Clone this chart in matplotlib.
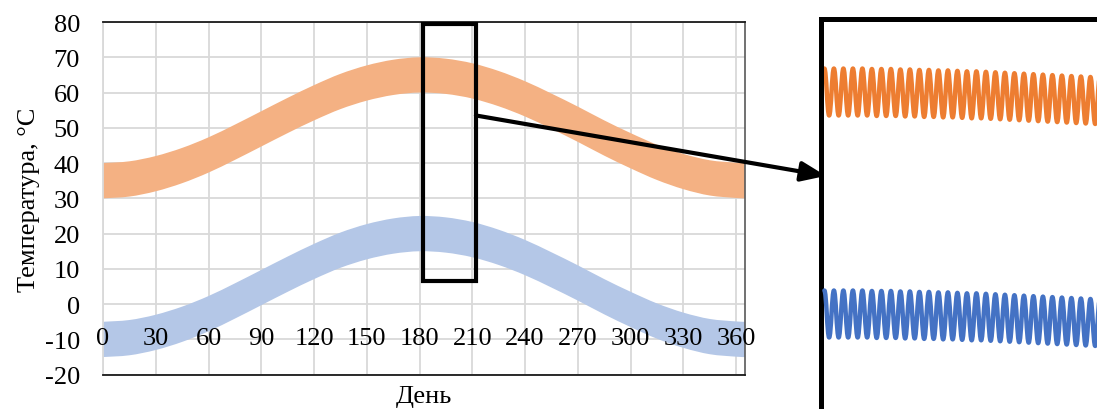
import matplotlib
matplotlib.use("Agg")
import matplotlib.pyplot as plt
from matplotlib.patches import Rectangle, ConnectionPatch, PathPatch
from matplotlib.path import Path

plt.rcParams['font.family'] = ['Liberation Serif', 'DejaVu Serif']
plt.rcParams['axes.unicode_minus'] = False

# ---------------- data ----------------
days = [0, 15, 30, 45, 60, 75, 90, 105, 120, 135, 150, 165, 180,
        195, 210, 225, 240, 255, 270, 285, 300, 315, 330, 345, 360, 365]
orange_high = [40.0, 40.5, 42.0, 44.3, 47.3, 50.9, 54.7, 58.5, 62.1, 65.3, 67.7, 69.3, 70.0,
               69.6, 68.3, 66.1, 63.2, 59.7, 56.0, 52.1, 48.5, 45.2, 42.6, 40.8, 40.1, 40.0]
orange_low = [30.0, 30.5, 32.0, 34.3, 37.3, 40.9, 44.7, 48.5, 52.1, 55.3, 57.7, 59.3, 60.0,
              59.6, 58.3, 56.1, 53.2, 49.7, 46.0, 42.1, 38.5, 35.2, 32.6, 30.8, 30.1, 30.0]
blue_high = [-5.0, -4.5, -3.0, -0.7, 2.3, 5.9, 9.7, 13.5, 17.1, 20.3, 22.7, 24.3, 25.0,
             24.6, 23.3, 21.1, 18.2, 14.7, 11.0, 7.1, 3.5, 0.2, -2.4, -4.2, -4.9, -5.0]
blue_low = [-15.0, -14.5, -13.0, -10.7, -7.7, -4.1, -0.3, 3.5, 7.1, 10.3, 12.7, 14.3, 15.0,
            14.6, 13.3, 11.1, 8.2, 4.7, 1.0, -2.9, -6.5, -9.8, -12.4, -14.2, -14.9, -15.0]

x_ticks = [0, 30, 60, 90, 120, 150, 180, 210, 240, 270, 300, 330, 360]
y_ticks = [-20, -10, 0, 10, 20, 30, 40, 50, 60, 70, 80]

# zoomed window (days 182..211): daily maxima / minima
zoom_days = list(range(182, 212))
zoom_orange_max = [70.0, 70.0, 70.0, 70.0, 70.0, 69.9, 69.9, 69.9, 69.8, 69.8,
                   69.7, 69.7, 69.6, 69.6, 69.5, 69.4, 69.4, 69.3, 69.2, 69.1,
                   69.0, 68.9, 68.8, 68.7, 68.6, 68.5, 68.4, 68.3, 68.2, 68.1]
zoom_orange_min = [60.0, 60.0, 60.0, 60.0, 60.0, 59.9, 59.9, 59.9, 59.8, 59.8,
                   59.7, 59.7, 59.6, 59.6, 59.5, 59.4, 59.4, 59.3, 59.2, 59.1,
                   59.0, 58.9, 58.8, 58.7, 58.6, 58.5, 58.4, 58.3, 58.2, 58.1]
zoom_blue_max = [25.0, 25.0, 25.0, 25.0, 25.0, 24.9, 24.9, 24.9, 24.8, 24.8,
                 24.7, 24.7, 24.6, 24.6, 24.5, 24.4, 24.4, 24.3, 24.2, 24.1,
                 24.0, 23.9, 23.8, 23.7, 23.6, 23.5, 23.4, 23.3, 23.2, 23.1]
zoom_blue_min = [15.0, 15.0, 15.0, 15.0, 15.0, 14.9, 14.9, 14.9, 14.8, 14.8,
                 14.7, 14.7, 14.6, 14.6, 14.5, 14.4, 14.4, 14.3, 14.2, 14.1,
                 14.0, 13.9, 13.8, 13.7, 13.6, 13.5, 13.4, 13.3, 13.2, 13.1]

box_day_start, box_day_len = 182, 30
box_temp_low, box_temp_high = 6.5, 79.5

ylabel_text = 'Температура, °С'
xlabel_text = 'День'

# ---------------- styles ----------------
FS = 19
C_OR_BAND = '#F4B183'
C_BL_BAND = '#B4C7E7'
C_OR_LINE = '#ED7D31'
C_BL_LINE = '#4472C4'
C_GRID = '#D9D9D9'


def smooth_segments(xs, ys):
    """Bezier (Catmull-Rom style) drawing of a polyline through the points."""
    pts = list(zip(xs, ys))
    n = len(pts)
    verts, codes = [], []
    for i in range(n - 1):
        p0 = pts[i - 1] if i > 0 else pts[i]
        p1 = pts[i]
        p2 = pts[i + 1]
        p3 = pts[i + 2] if i + 2 < n else pts[i + 1]
        c1 = (p1[0] + (p2[0] - p0[0]) / 6, p1[1] + (p2[1] - p0[1]) / 6)
        c2 = (p2[0] - (p3[0] - p1[0]) / 6, p2[1] - (p3[1] - p1[1]) / 6)
        verts += [c1, c2, p2]
        codes += [Path.CURVE4] * 3
    return verts, codes


def band_patch(xs, lo, hi, color):
    v_up, c_up = smooth_segments(xs, hi)
    v_lo, c_lo = smooth_segments(xs[::-1], lo[::-1])
    verts = [(xs[0], hi[0])] + v_up + [(xs[-1], lo[-1])] + v_lo + [(xs[0], hi[0])]
    codes = [Path.MOVETO] + c_up + [Path.LINETO] + c_lo + [Path.CLOSEPOLY]
    return PathPatch(Path(verts, codes), facecolor=color, edgecolor='none', zorder=2)


def wave_patch(dlist, hi, lo, color, lw):
    """Daily oscillation drawn as smooth S-curves between daily max and min."""
    ext = []
    for d, h, l in zip(dlist, hi, lo):
        ext += [(d + 0.25, h), (d + 0.75, l)]
    verts = [ext[0]]
    codes = [Path.MOVETO]
    k = 0.40
    for (x0, y0), (x1, y1) in zip(ext[:-1], ext[1:]):
        dx = x1 - x0
        verts += [(x0 + k * dx, y0), (x1 - k * dx, y1), (x1, y1)]
        codes += [Path.CURVE4] * 3
    return PathPatch(Path(verts, codes), facecolor='none', edgecolor=color, lw=lw,
                     joinstyle='round', capstyle='round')


fig = plt.figure(figsize=(10.97, 4.10), dpi=100)

pos = [0.0939, 0.0837, 0.5852, 0.8602]
ax = fig.add_axes(pos)
ax.set_xlim(0, 365)
ax.set_ylim(-20, 80)
ax.add_patch(band_patch(days, orange_low, orange_high, C_OR_BAND))
ax.add_patch(band_patch(days, blue_low, blue_high, C_BL_BAND))
ax.set_xticks(x_ticks)
ax.set_yticks(y_ticks)
ax.set_axisbelow(True)
ax.grid(True, color=C_GRID, lw=1.3)
ax.tick_params(length=0)
ax.tick_params(axis='x', labelbottom=False)
ax.tick_params(axis='y', labelsize=FS, pad=16.5)
for s in ('top', 'bottom'):
    ax.spines[s].set_color('#1a1a1a')
    ax.spines[s].set_linewidth(1.3)
ax.spines['right'].set_color('#595959')
ax.spines['right'].set_linewidth(1.2)
ax.spines['left'].set_color(C_GRID)
ax.spines['left'].set_linewidth(1.3)
ax.set_ylabel(ylabel_text, fontsize=FS)
ax.yaxis.set_label_coords(-0.098, 0.5)
ax.set_xlabel(xlabel_text, fontsize=FS, va='top')
ax.xaxis.set_label_coords(0.5, -0.028)

ax.add_patch(Rectangle((box_day_start, box_temp_low), box_day_len,
                       box_temp_high - box_temp_low, fill=False, ec='black',
                       lw=3, zorder=4))

# overlay axes carrying the x tick labels above the bands
ax2 = fig.add_axes(pos, sharex=ax)
ax2.set_ylim(-20, 80)
ax2.patch.set_visible(False)
for s in ax2.spines.values():
    s.set_visible(False)
ax2.set_yticks([])
ax2.tick_params(axis='x', length=0, labelsize=FS, pad=-34)
ax2.set_zorder(ax.get_zorder() + 1)

# ---------------- inset ----------------
ax_in = fig.add_axes([0.74795, -0.00488, 0.2821, 0.9573])
ax_in.set_zorder(3)
ax_in.set_xlim(181.84, 214.41)
ax_in.set_ylim(-2.87, 80.64)
ax_in.set_xticks([])
ax_in.set_yticks([])
for s in ax_in.spines.values():
    s.set_linewidth(3.6)
    s.set_color('black')
    s.set_zorder(5)
ax_in.add_patch(wave_patch(zoom_days, zoom_orange_max, zoom_orange_min, C_OR_LINE, 3.2))

ax_in2 = ax_in.twinx()
ax_in2.set_ylim(-0.64, 82.87)
ax_in2.set_yticks([])
for s in ax_in2.spines.values():
    s.set_visible(False)
ax_in2.add_patch(wave_patch(zoom_days, zoom_blue_max, zoom_blue_min, C_BL_LINE, 3.2))

# arrow from the zoom box to the inset
arrow = ConnectionPatch(xyA=(box_day_start + box_day_len, 53.5), coordsA=ax.transData,
                        xyB=(0.0178, 0.599), coordsB=ax_in.transAxes,
                        arrowstyle='-|>,head_length=0.75,head_width=0.3',
                        mutation_scale=20, lw=3, color='black',
                        shrinkA=0, shrinkB=0, zorder=10)
fig.add_artist(arrow)

fig.savefig('out.png', dpi=100)
